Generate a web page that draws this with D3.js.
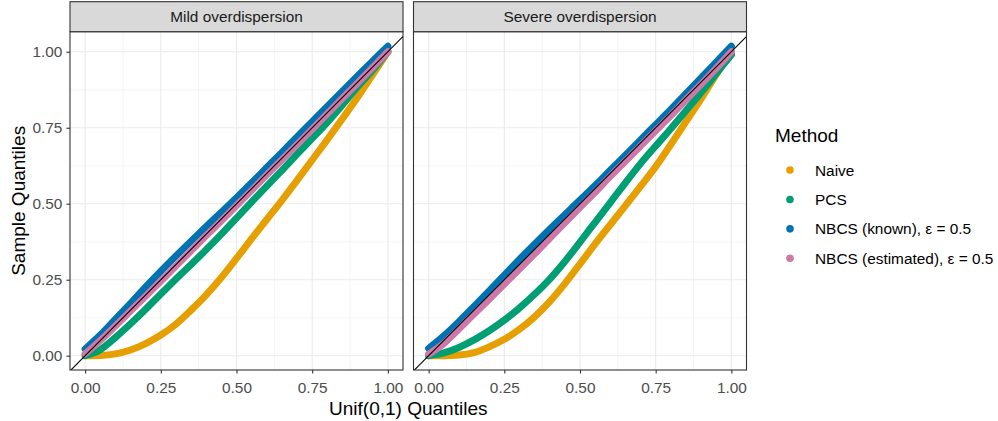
<!DOCTYPE html>
<html>
<head>
<meta charset="utf-8">
<script src="https://cdn.jsdelivr.net/npm/d3@7"></script>
<style>
  body { margin: 0; background: #fff; }
  text { font-family: "Liberation Sans", Arial, Helvetica, sans-serif; }
</style>
</head>
<body>
<svg id="chart" width="998" height="421"></svg>
<script>
// panel titles and legend entries
const panels = ["Mild overdispersion", "Severe overdispersion"];
const methods = ["Naive", "PCS", "NBCS (known), \u03B5 = 0.5", "NBCS (estimated), \u03B5 = 0.5"];
const colors = ["#E69F00", "#009E73", "#0072B2", "#CC79A7"];

// theoretical Unif(0,1) quantiles (x)
const unifQ = [0, 0.05, 0.1, 0.15, 0.2, 0.25, 0.3, 0.35, 0.4, 0.45, 0.5,
               0.55, 0.6, 0.65, 0.7, 0.75, 0.8, 0.85, 0.9, 0.95, 1];

// sample quantiles, mild overdispersion
const mildNaive = [0, 0.001, 0.006, 0.019, 0.04, 0.068, 0.104, 0.15, 0.2, 0.257, 0.32,
                   0.385, 0.448, 0.511, 0.577, 0.644, 0.711, 0.78, 0.85, 0.925, 1.0];
const mildPCS = [0, 0.02, 0.06, 0.105, 0.153, 0.203, 0.252, 0.3, 0.349, 0.4, 0.453,
                 0.506, 0.558, 0.61, 0.663, 0.715, 0.768, 0.825, 0.885, 0.94, 1.0];
const mildKnown = [0.022, 0.068, 0.12, 0.172, 0.226, 0.278, 0.328, 0.377, 0.425, 0.472, 0.52,
                   0.569, 0.619, 0.669, 0.72, 0.77, 0.82, 0.87, 0.92, 0.97, 1.018];
const mildEst = [0.006, 0.05, 0.098, 0.147, 0.196, 0.245, 0.295, 0.345, 0.395, 0.444, 0.494,
                 0.544, 0.595, 0.645, 0.695, 0.745, 0.796, 0.847, 0.897, 0.948, 1.0];

// sample quantiles, severe overdispersion
const sevNaive = [0, 0, 0.002, 0.01, 0.029, 0.054, 0.087, 0.128, 0.178, 0.237, 0.302,
                  0.368, 0.431, 0.494, 0.557, 0.622, 0.695, 0.77, 0.845, 0.925, 1.0];
const sevPCS = [0, 0.009, 0.027, 0.052, 0.082, 0.117, 0.157, 0.202, 0.252, 0.31, 0.374,
                0.439, 0.504, 0.569, 0.632, 0.69, 0.747, 0.806, 0.866, 0.928, 0.99];
const sevKnown = [0.024, 0.065, 0.112, 0.162, 0.213, 0.265, 0.317, 0.367, 0.416, 0.464, 0.512,
                  0.56, 0.61, 0.66, 0.71, 0.76, 0.81, 0.862, 0.914, 0.966, 1.018];
const sevEst = [0.005, 0.04, 0.088, 0.137, 0.186, 0.236, 0.285, 0.335, 0.386, 0.437, 0.488,
                0.538, 0.59, 0.64, 0.69, 0.74, 0.79, 0.842, 0.893, 0.945, 1.0];

const panelSeries = [
  [mildNaive, mildPCS, mildKnown, mildEst],
  [sevNaive, sevPCS, sevKnown, sevEst]
];

const majorTicks = [0, 0.25, 0.5, 0.75, 1];
const minorTicks = [0.125, 0.375, 0.625, 0.875];

const svg = d3.select("#chart");

const panelW = 333, panelTop = 31.7, panelBottom = 370, stripTop = 1.7;
const panelLefts = [70, 413.5];

const yScale = d3.scaleLinear().domain([-0.047, 1.066]).range([panelBottom, panelTop]);

panels.forEach((title, p) => {
  const left = panelLefts[p];
  const xScale = d3.scaleLinear().domain([-0.05, 1.05]).range([left, left + panelW]);
  const g = svg.append("g");

  // clip
  svg.append("clipPath").attr("id", "clip" + p)
    .append("rect")
    .attr("x", left).attr("y", panelTop)
    .attr("width", panelW).attr("height", panelBottom - panelTop);

  // background + grid
  g.append("rect")
    .attr("x", left).attr("y", panelTop)
    .attr("width", panelW).attr("height", panelBottom - panelTop)
    .attr("fill", "#fff");

  const grid = g.append("g").attr("clip-path", `url(#clip${p})`);
  [[minorTicks, 0.55], [majorTicks, 1.1]].forEach(([ticks, w]) => {
    grid.selectAll(null).data(ticks).join("line")
      .attr("x1", d => xScale(d)).attr("x2", d => xScale(d))
      .attr("y1", panelTop).attr("y2", panelBottom)
      .attr("stroke", "#EBEBEB").attr("stroke-width", w);
    grid.selectAll(null).data(ticks).join("line")
      .attr("x1", left).attr("x2", left + panelW)
      .attr("y1", d => yScale(d)).attr("y2", d => yScale(d))
      .attr("stroke", "#EBEBEB").attr("stroke-width", w);
  });

  // curves
  const line = d3.line()
    .x((d, i) => xScale(unifQ[i]))
    .y(d => yScale(d))
    .curve(d3.curveMonotoneX);

  const marks = g.append("g").attr("clip-path", `url(#clip${p})`);
  panelSeries[p].forEach((vals, k) => {
    marks.append("path")
      .attr("d", line(vals))
      .attr("fill", "none")
      .attr("stroke", colors[k])
      .attr("stroke-width", 7)
      .attr("stroke-linecap", "round")
      .attr("stroke-linejoin", "round");
  });

  // reference line y = x
  marks.append("line")
    .attr("x1", xScale(-0.05)).attr("y1", yScale(-0.05))
    .attr("x2", xScale(1.1)).attr("y2", yScale(1.1))
    .attr("stroke", "#000").attr("stroke-width", 1.1);

  // panel border
  g.append("rect")
    .attr("x", left).attr("y", panelTop)
    .attr("width", panelW).attr("height", panelBottom - panelTop)
    .attr("fill", "none").attr("stroke", "#333").attr("stroke-width", 1.1);

  // strip
  g.append("rect")
    .attr("x", left).attr("y", stripTop)
    .attr("width", panelW).attr("height", panelTop - stripTop)
    .attr("fill", "#D9D9D9").attr("stroke", "#333").attr("stroke-width", 1.1);
  g.append("text")
    .attr("x", left + panelW / 2).attr("y", (stripTop + panelTop) / 2 + 5.4)
    .attr("text-anchor", "middle")
    .attr("font-size", 15.4).attr("fill", "#1A1A1A")
    .text(title);

  // x axis
  const xAxis = d3.axisBottom(xScale)
    .tickValues(majorTicks)
    .tickFormat(d3.format(".2f"))
    .tickSize(3.6).tickPadding(8.5);
  const ax = svg.append("g")
    .attr("transform", `translate(0,${panelBottom})`)
    .call(xAxis);
  ax.select(".domain").remove();
  ax.selectAll(".tick line").attr("stroke", "#333").attr("stroke-width", 1.1);
  ax.selectAll(".tick text")
    .attr("font-size", 15.4).attr("fill", "#4D4D4D")
    .attr("font-family", "Liberation Sans, Arial, sans-serif");

  if (p === 0) {
    const yAxis = d3.axisLeft(yScale)
      .tickValues(majorTicks)
      .tickFormat(d3.format(".2f"))
      .tickSize(3.6).tickPadding(4);
    const ay = svg.append("g")
      .attr("transform", `translate(${left},0)`)
      .call(yAxis);
    ay.select(".domain").remove();
    ay.selectAll(".tick line").attr("stroke", "#333").attr("stroke-width", 1.1);
    ay.selectAll(".tick text")
      .attr("font-size", 15.4).attr("fill", "#4D4D4D")
      .attr("font-family", "Liberation Sans, Arial, sans-serif");
  }
});

// axis titles
svg.append("text")
  .attr("x", (panelLefts[0] + panelLefts[1] + panelW) / 2).attr("y", 414.5)
  .attr("text-anchor", "middle").attr("font-size", 19)
  .text("Unif(0,1) Quantiles");

svg.append("text")
  .attr("transform", `translate(25,${(panelTop + panelBottom) / 2}) rotate(-90)`)
  .attr("text-anchor", "middle").attr("font-size", 19)
  .text("Sample Quantiles");

// legend
const legend = svg.append("g");
legend.append("text")
  .attr("x", 775).attr("y", 142)
  .attr("font-size", 19)
  .text("Method");

const legendY = d3.scalePoint().domain(methods).range([170, 258.3]);
methods.forEach((m, k) => {
  legend.append("circle")
    .attr("cx", 790).attr("cy", legendY(m)).attr("r", 3.8)
    .attr("fill", colors[k]);
  legend.append("text")
    .attr("x", 815).attr("y", legendY(m) + 5.5)
    .attr("font-size", 15.4).attr("fill", "#000")
    .text(m);
});
</script>
</body>
</html>
